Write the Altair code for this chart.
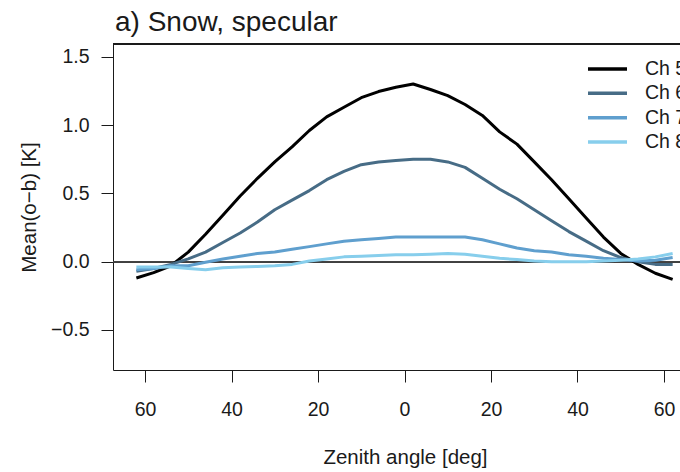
import altair as alt
import pandas as pd

# Zenith angle (negative = one side of nadir, positive = other side)
zenith = [-62, -58, -54, -50, -46, -42, -38, -34, -30, -26, -22, -18, -14, -10, -6, -2,
          2, 6, 10, 14, 18, 22, 26, 30, 34, 38, 42, 46, 50, 54, 58, 62]

channels = ["Ch 5", "Ch 6", "Ch 7", "Ch 8"]
colors = ["#000000", "#476c86", "#5f9fce", "#87ceec"]

# Mean observation-minus-background per channel [K]
ch5 = [-0.12, -0.08, -0.03, 0.07, 0.20, 0.34, 0.48, 0.61, 0.73, 0.84, 0.96, 1.06, 1.13, 1.20, 1.245, 1.276,
       1.30, 1.26, 1.215, 1.15, 1.07, 0.95, 0.86, 0.73, 0.60, 0.46, 0.32, 0.18, 0.06, -0.02, -0.085, -0.13]
ch6 = [-0.07, -0.05, -0.02, 0.02, 0.07, 0.14, 0.21, 0.29, 0.38, 0.45, 0.52, 0.60, 0.66, 0.71, 0.73, 0.74,
       0.75, 0.75, 0.73, 0.69, 0.61, 0.53, 0.46, 0.38, 0.30, 0.22, 0.15, 0.08, 0.03, 0.0, -0.02, -0.02]
ch7 = [-0.06, -0.05, -0.03, -0.03, -0.005, 0.02, 0.04, 0.06, 0.07, 0.09, 0.11, 0.13, 0.15, 0.16, 0.17, 0.18,
       0.18, 0.18, 0.18, 0.18, 0.16, 0.13, 0.10, 0.08, 0.07, 0.05, 0.04, 0.025, 0.015, 0.005, 0.01, 0.03]
ch8 = [-0.04, -0.04, -0.04, -0.05, -0.06, -0.045, -0.04, -0.035, -0.03, -0.02, 0.005, 0.02, 0.035, 0.04, 0.045, 0.05,
       0.05, 0.055, 0.06, 0.055, 0.04, 0.025, 0.015, 0.005, 0.0, 0.0, 0.0, 0.005, 0.01, 0.02, 0.035, 0.06]

x_ticks = [-60, -40, -20, 0, 20, 40, 60]
y_ticks = [-0.5, 0.0, 0.5, 1.0, 1.5]

rows = []
for name, vals in zip(channels, [ch5, ch6, ch7, ch8]):
    for z, v in zip(zenith, vals):
        rows.append({"channel": name, "zenith": z, "bias": v})
df = pd.DataFrame(rows)
legend_df = pd.DataFrame({"channel": channels})

W, H = 567, 326
FONT = "Liberation Sans"
INK = "#1a1a1a"

x_scale = alt.Scale(domain=[-67.4, 63.7], nice=False, zero=False)
y_scale = alt.Scale(domain=[-0.793, 1.593], nice=False, zero=False)
color_scale = alt.Scale(domain=channels, range=colors)

zero_line = alt.Chart(df).mark_rule(color="#444444", strokeWidth=1).encode(
    y=alt.Y(datum=0, scale=y_scale)
)

top_frame = alt.Chart(df).mark_rule(color=INK, strokeWidth=1).encode(
    x=alt.value(0), x2=alt.value(W), y=alt.value(0)
)

lines = alt.Chart(df).mark_line(strokeWidth=3, strokeJoin="round").encode(
    x=alt.X("zenith:Q", scale=x_scale,
            axis=alt.Axis(values=x_ticks, labelExpr="abs(datum.value)",
                          title="Zenith angle [deg]", labelPadding=18,
                          titleX=292, titleY=93, titleAlign="center",
                          titleBaseline="alphabetic", titleFontSize=20.5)),
    y=alt.Y("bias:Q", scale=y_scale,
            axis=alt.Axis(values=y_ticks, format=".1f", title="Mean(o\u2212b) [K]",
                          labelPadding=12, titleX=-78, titleY=H / 2,
                          titleAngle=-90, titleAlign="center",
                          titleBaseline="alphabetic", titleFontSize=20.5)),
    color=alt.Color("channel:N", scale=color_scale, legend=None),
    order=alt.Order("zenith:Q"),
)

plot = alt.layer(zero_line, lines, top_frame)

leg_y = alt.Y("channel:N", scale=alt.Scale(type="point", domain=channels, range=[25, 98], padding=0), axis=None)

leg_lines = alt.Chart(legend_df).mark_rule(strokeWidth=3.5).encode(
    x=alt.value(475), x2=alt.value(514), y=leg_y,
    color=alt.Color("channel:N", scale=color_scale, legend=None),
)
leg_text = alt.Chart(legend_df).mark_text(
    align="left", baseline="middle", font=FONT, fontSize=19.5, color=INK
).encode(x=alt.value(532), y=leg_y, text="channel:N")

legend = alt.layer(leg_lines, leg_text)

chart = (
    alt.layer(plot, legend)
    .resolve_scale(y="independent")
    .properties(
        width=W,
        height=H,
        title=alt.TitleParams(
            "a) Snow, specular", anchor="start", frame="group", font=FONT,
            fontSize=28, fontWeight="normal", color=INK, dx=2, dy=24, offset=9,
            baseline="alphabetic",
        ),
        autosize=alt.AutoSizeParams(type="none"),
        padding={"left": 113, "top": 44, "right": 0, "bottom": 102},
    )
    .configure_view(stroke=None)
    .configure_axis(
        grid=False, domainColor=INK, tickColor=INK, labelColor=INK, titleColor=INK,
        labelFont=FONT, titleFont=FONT, labelFontSize=19.5, titleFontSize=20.5,
        titleFontWeight="normal", tickSize=12, domainWidth=1, tickWidth=1,
    )
)

chart.save("out.html", embed_options={"renderer": "svg", "actions": False})
